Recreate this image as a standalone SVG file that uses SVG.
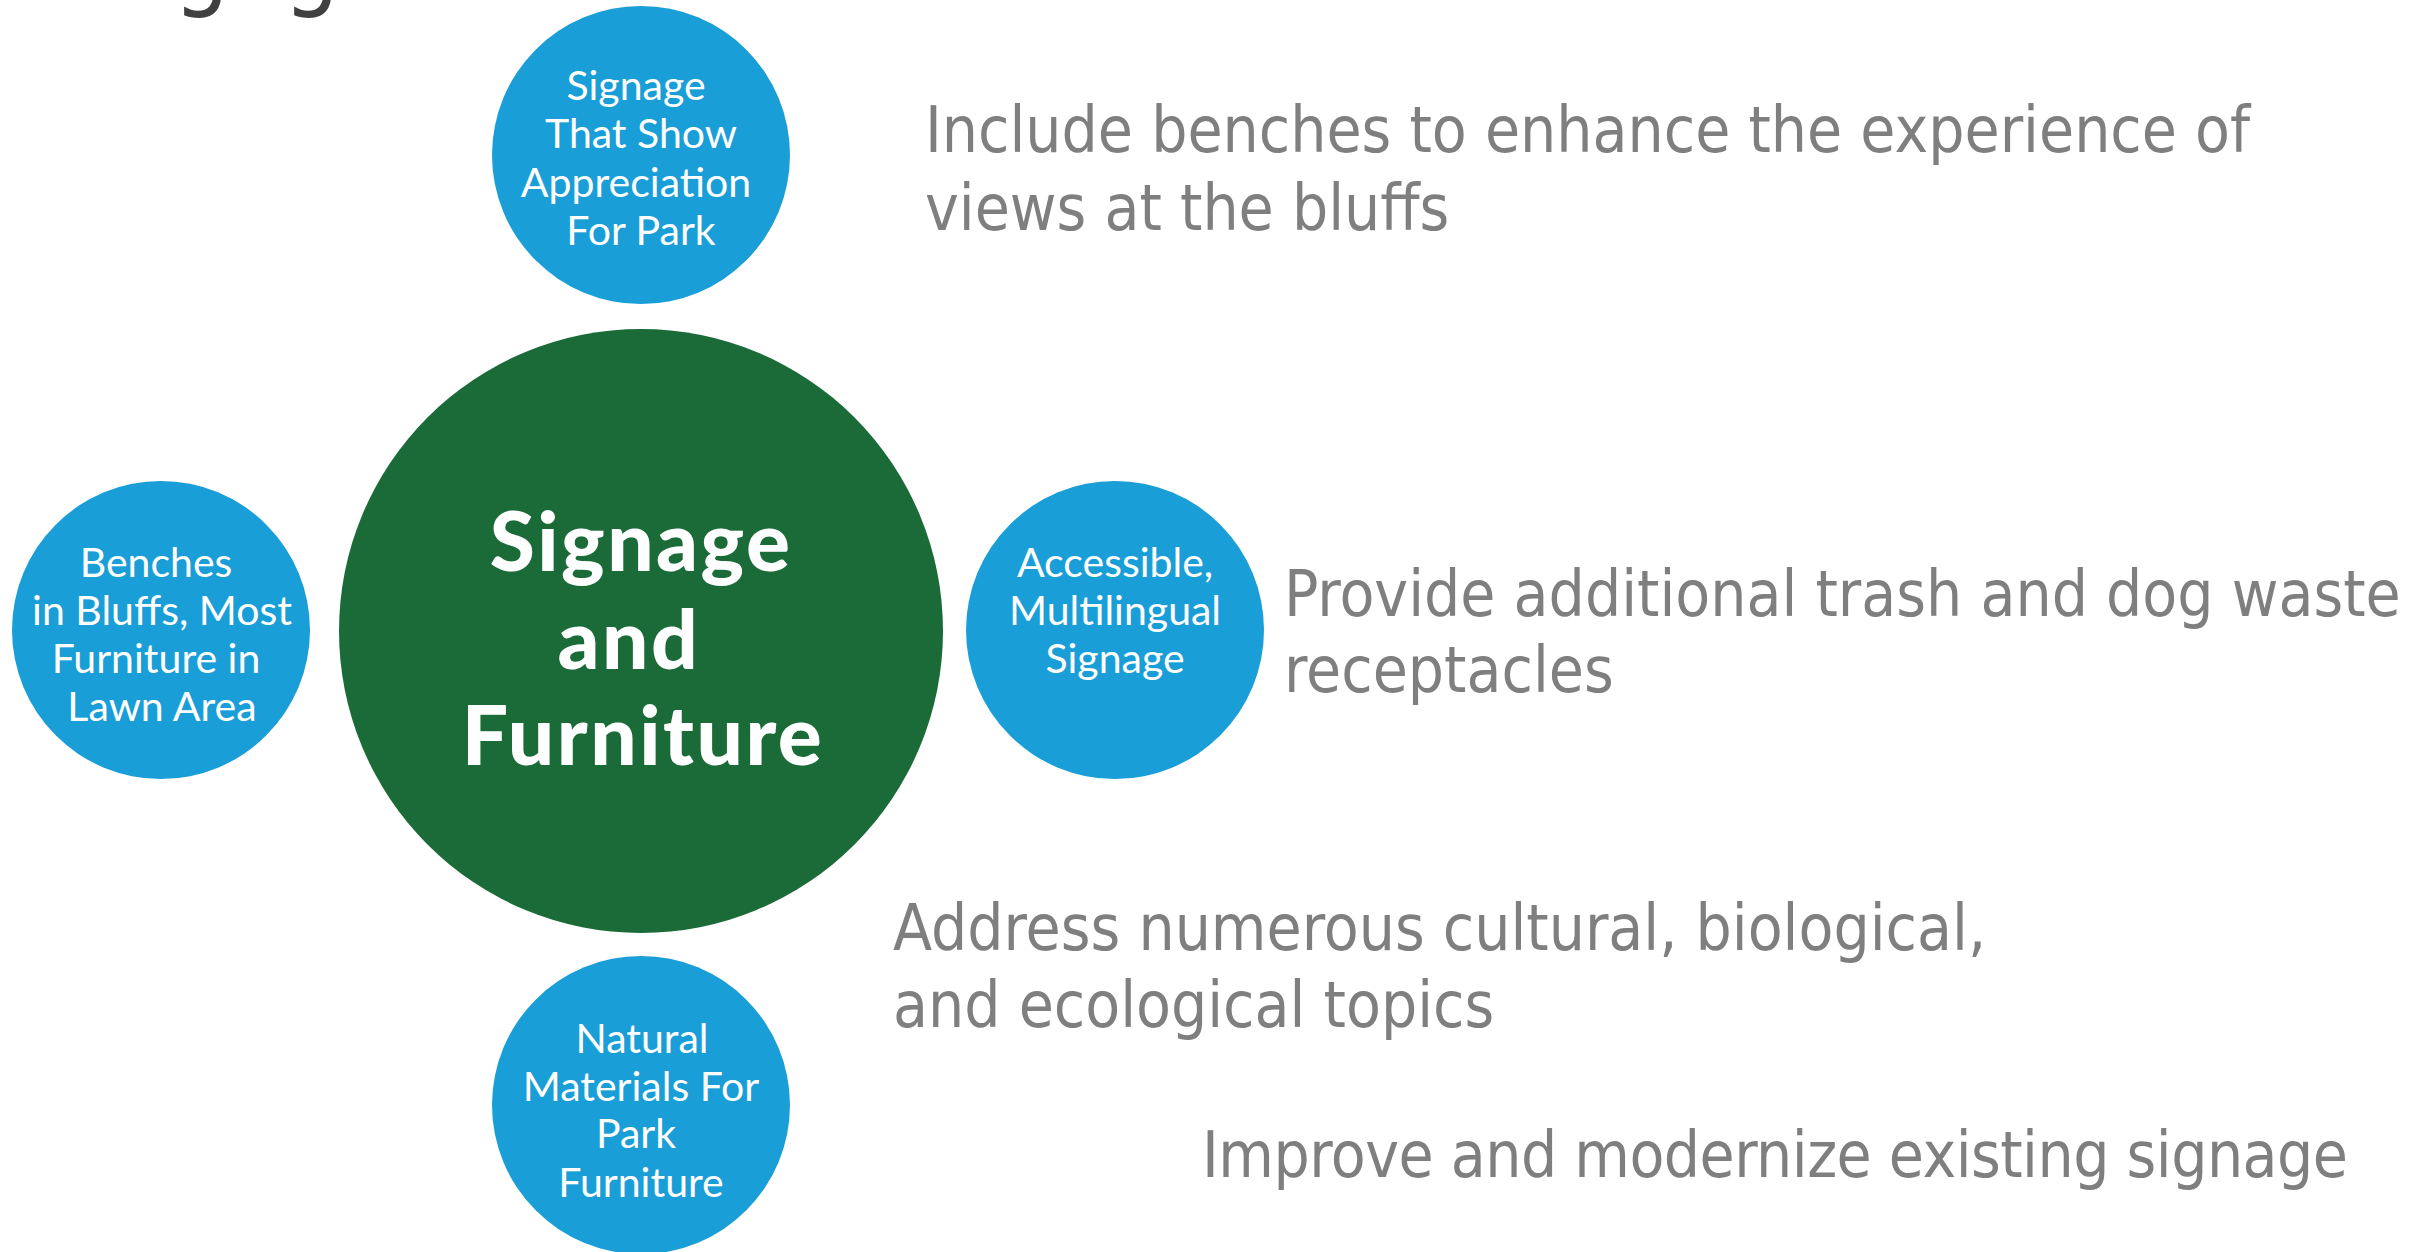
<svg xmlns="http://www.w3.org/2000/svg" width="2427" height="1252" viewBox="0 0 2427 1252">
<style>
.bg{fill:#ffffff}
.blue{fill:#1a9ed7}
.green{fill:#1a6b37}
.bt{font-family:Lato,"Open Sans","Noto Sans",sans-serif;font-size:41px;fill:#ffffff;text-anchor:middle}
.gt{font-family:Lato,"Open Sans","Noto Sans",sans-serif;font-size:82px;font-weight:900;letter-spacing:2.5px;fill:#ffffff;text-anchor:middle}
.note{font-family:"DejaVu Sans Condensed","DejaVu Sans",sans-serif;font-stretch:condensed;font-size:63.5px;fill:#7f7f7f}
.title{font-family:"DejaVu Sans Condensed","DejaVu Sans",sans-serif;font-stretch:condensed;font-size:98px;fill:#404040}
</style>
<rect class="bg" x="0" y="0" width="2427" height="1252"/>
<text class="title" x="62" y="-2">Engagement</text>
<g id="connectors"/>
<g id="node-center">
<circle class="green" cx="641" cy="631" r="302"/>
<text class="gt" x="641" y="571">Signage</text>
<text class="gt" x="629" y="669">and</text>
<text class="gt" x="643" y="765">Furniture</text>
</g>
<g id="node-top">
<circle class="blue" cx="641" cy="155" r="149"/>
<text class="bt" x="636" y="100">Signage</text>
<text class="bt" x="641" y="148">That Show</text>
<text class="bt" x="636" y="197">Appreciation</text>
<text class="bt" x="641" y="245">For Park</text>
</g>
<g id="node-left">
<circle class="blue" cx="161" cy="630" r="149"/>
<text class="bt" x="156" y="577">Benches</text>
<text class="bt" x="162" y="625">in Bluffs, Most</text>
<text class="bt" x="156" y="673">Furniture in</text>
<text class="bt" x="162" y="721">Lawn Area</text>
</g>
<g id="node-right">
<circle class="blue" cx="1115" cy="630" r="149"/>
<text class="bt" x="1115" y="577">Accessible,</text>
<text class="bt" x="1115" y="625">Multilingual</text>
<text class="bt" x="1115" y="673">Signage</text>
</g>
<g id="node-bottom">
<circle class="blue" cx="641" cy="1105" r="149"/>
<text class="bt" x="642" y="1053">Natural</text>
<text class="bt" x="641" y="1101">Materials For</text>
<text class="bt" x="636" y="1148">Park</text>
<text class="bt" x="641" y="1197">Furniture</text>
</g>
<g id="notes">
<text class="note" x="925" y="152">Include benches to enhance the experience of</text>
<text class="note" x="925" y="230">views at the bluffs</text>
<text class="note" x="1284" y="616">Provide additional trash and dog waste</text>
<text class="note" x="1284" y="692">receptacles</text>
<text class="note" x="893" y="950">Address numerous cultural, biological,</text>
<text class="note" x="893" y="1027">and ecological topics</text>
<text class="note" x="1202" y="1177" textLength="1146" lengthAdjust="spacing">Improve and modernize existing signage</text>
</g>
</svg>
